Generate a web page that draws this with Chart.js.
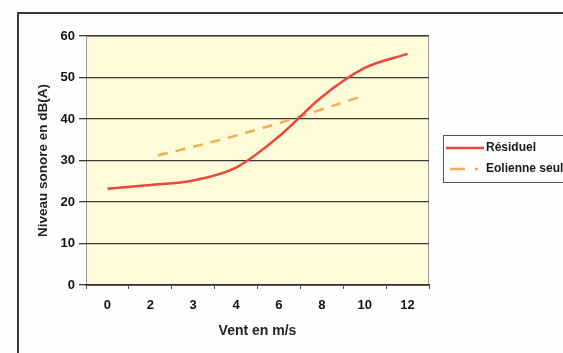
<!DOCTYPE html>
<html>
<head>
<meta charset="utf-8">
<script src="https://cdn.jsdelivr.net/npm/chart.js@4.4.1/dist/chart.umd.min.js"></script>
<style>
    html, body { margin: 0; padding: 0; background: #fefefe; overflow: hidden; }
    body { width: 563px; height: 353px; position: relative; }
    #frame { position: absolute; left: 17px; top: 12px; width: 700px; height: 500px; border-left: 2px solid #3a3a3a; border-top: 2px solid #3a3a3a; }
    #wrap { position: absolute; left: 0; top: 0; width: 563px; height: 353px; }
</style>
</head>
<body>
<div id="frame"></div>
<div id="wrap"><canvas id="myChart"></canvas></div>
<script>
const windSpeeds = ['0', '2', '3', '4', '6', '8', '10', '12'];
const residuel = [23.2, 24.1, 25.2, 28.3, 35.8, 45.3, 52.3, 55.7];
const eolienneSeule = [null, 30.8, 33.3, 36.0, 39.0, 42.3, 45.7, null];
const seriesNames = ['Résiduel', 'Eolienne seule'];

const fontFamily = "'Liberation Sans', Arial, sans-serif";

// fond jaune de la zone de tracé
const plotBackground = {
    id: 'plotBackground',
    beforeDraw(chart) {
        const { ctx, chartArea } = chart;
        ctx.save();
        ctx.fillStyle = '#fdfbd8';
        ctx.fillRect(chartArea.left, chartArea.top, chartArea.right - chartArea.left, chartArea.bottom - chartArea.top);
        ctx.strokeStyle = '#9a9a9a';
        ctx.lineWidth = 1;
        ctx.strokeRect(chartArea.left + 0.5, chartArea.top + 0.5, chartArea.right - chartArea.left - 1, chartArea.bottom - chartArea.top);
        ctx.restore();
    }
};

// légende encadrée comme dans Excel
const framedLegend = {
    id: 'framedLegend',
    afterDraw(chart) {
        const ctx = chart.ctx;
        const sets = chart.data.datasets;
        ctx.save();
        ctx.strokeStyle = '#555';
        ctx.lineWidth = 1;
        ctx.strokeRect(443.5, 135.5, 160, 47);
        ctx.font = 'bold 12px ' + fontFamily;
        ctx.textBaseline = 'middle';
        ctx.fillStyle = '#1a1a1a';
        const rows = [148, 169];
        sets.forEach((ds, i) => {
            const y = rows[i];
            ctx.strokeStyle = ds.borderColor;
            ctx.lineWidth = 2.5;
            ctx.setLineDash(i === 0 ? [] : [15, 10, 3, 20]);
            ctx.beginPath();
            ctx.moveTo(i === 0 ? 446 : 450, y);
            ctx.lineTo(484, y);
            ctx.stroke();
            ctx.setLineDash([]);
            ctx.fillText(ds.label, 486, y);
        });
        ctx.restore();
    }
};

const config = {
    type: 'line',
    data: {
        labels: windSpeeds,
        datasets: [{
            label: seriesNames[0],
            data: residuel,
            borderColor: '#e8473b',
            borderWidth: 2.5,
            pointRadius: 0,
            cubicInterpolationMode: 'monotone',
            fill: false
        }, {
            label: seriesNames[1],
            data: eolienneSeule,
            borderColor: '#f2ad50',
            borderWidth: 2.5,
            borderDash: [10, 8],
            borderDashOffset: 10,
            pointRadius: 0,
            cubicInterpolationMode: 'monotone',
            fill: false
        }]
    },
    options: {
        responsive: true,
        maintainAspectRatio: false,
        animation: false,
        layout: { padding: { left: 31, top: 36, right: 134, bottom: 9 } },
        plugins: {
            legend: { display: false },
            tooltip: { enabled: false }
        },
        scales: {
            x: {
                offset: true,
                afterFit: (scale) => { scale.height = 59; },
                grid: {
                    offset: true,
                    drawOnChartArea: false,
                    tickLength: 4,
                    color: '#555'
                },
                border: { color: '#333', width: 1.5 },
                ticks: {
                    color: '#111',
                    padding: 9,
                    font: { family: fontFamily, size: 13, weight: 'bold' }
                },
                title: {
                    display: true,
                    text: 'Vent en m/s',
                    color: '#222',
                    font: { family: fontFamily, size: 14, weight: 'bold' }
                }
            },
            y: {
                min: 0,
                max: 60,
                afterFit: (scale) => { scale.width = 55; },
                ticks: {
                    stepSize: 10,
                    color: '#111',
                    padding: 4,
                    font: { family: fontFamily, size: 13, weight: 'bold' }
                },
                grid: {
                    color: '#3a3a3a',
                    lineWidth: 1.3,
                    tickLength: 7
                },
                border: { display: false },
                title: {
                    display: true,
                    text: 'Niveau sonore en dB(A)',
                    color: '#222',
                    font: { family: fontFamily, size: 13.5, weight: 'bold' }
                }
            }
        }
    },
    plugins: [plotBackground, framedLegend]
};

const myChart = new Chart(document.getElementById('myChart'), config);
</script>
</body>
</html>
